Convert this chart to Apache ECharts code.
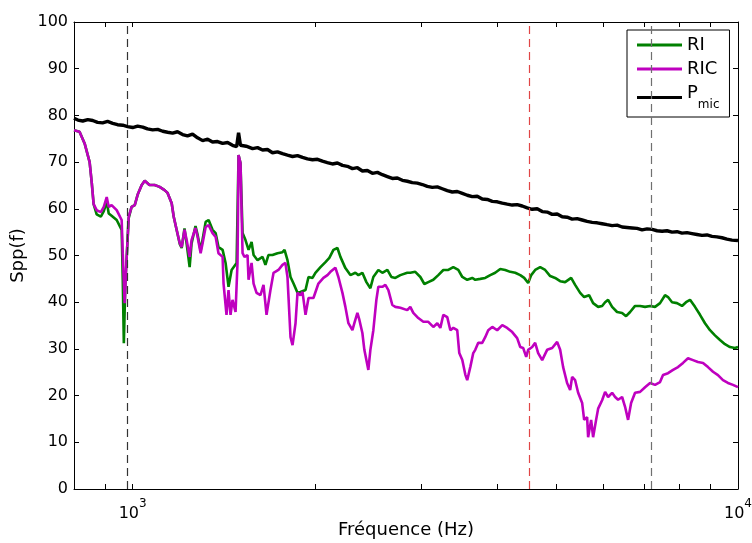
<!DOCTYPE html>
<html>
<head>
<meta charset="utf-8">
<script src="https://cdn.jsdelivr.net/npm/echarts@6/dist/echarts.min.js"></script>
<style>html,body{margin:0;padding:0;background:#fff}#c{width:752px;height:543px}</style>
</head>
<body>
<div id="c"></div>
<script>
// ---- data (frequency in Hz, Spp(f)) ----
const freqRIC = [800,817,833,849,856,862,872,886,896,906,913,923,930,941,948,959,963,970,977,985,996,1008,1019,1035,1047,1066,1087,1108,1129,1142,1160,1169,1182,1196,1205,1218,1228,1242,1251,1270,1280,1295,1305,1320,1335,1355,1371,1386,1408,1413,1429,1440,1451,1462,1479,1490,1496,1507,1519,1530,1548,1554,1572,1584,1602,1626,1645,1664,1689,1709,1741,1768,1788,1802,1809,1823,1837,1858,1872,1893,1908,1930,1952,1989,2027,2066,2098,2122,2162,2187,2221,2246,2272,2307,2324,2351,2369,2396,2414,2451,2470,2498,2527,2546,2585,2615,2645,2685,2716,2768,2842,2875,2908,2964,3021,3079,3138,3186,3223,3260,3309,3348,3386,3437,3464,3504,3544,3570,3612,3653,3681,3723,3780,3823,3867,3927,4001,4079,4156,4237,4317,4368,4417,4468,4502,4571,4623,4676,4748,4838,4932,5026,5084,5142,5220,5281,5321,5382,5444,5528,5570,5633,5655,5720,5763,5829,5874,5964,6032,6101,6195,6266,6337,6435,6508,6583,6659,6760,6890,7022,7157,7294,7434,7519,7663,7811,7960,8113,8268,8427,8588,8754,8921,9093,9266,9445,9625,9810,10000];
const valRIC = [76.8,76.5,74,70,65.5,61,59.7,59.3,60.4,62.5,60.4,60.8,60.8,59.7,59.7,57.6,50.5,39.8,49,58.3,60.4,60.8,63,65.1,66,65.1,65.1,64.7,64,63.4,61.2,58.3,55.5,52.7,51.8,55.5,53.3,49.7,53.3,55.9,54,50.5,52.7,56.1,56.5,54.8,54,50.5,49.7,44,37.3,42.6,37.3,40.5,37.9,48.4,71.5,69.8,50.5,49.7,50.1,44.8,48.4,44,42,41.5,43.7,37.3,42.6,46.3,46.9,48,48.4,45.4,41.1,32.5,30.8,35.5,42,41.5,42.2,37.3,40.9,40.9,44,45.2,45.8,46.5,47.4,45.4,42,39,35.5,34,35.5,37.7,36.2,33.4,29.8,25.5,29.8,34,40.5,43.3,43.3,43.7,42.6,39.4,39,38.8,38.3,39,37.7,36.6,35.8,35.8,34.7,35.5,34.5,37.3,36.8,34,34.5,34,29.1,27.6,24.5,23.3,26.1,29.1,29.8,31.3,31.3,32.5,34,34.7,34,35.1,34.5,33.6,32.3,30.4,30.2,28.3,29.8,30.4,31.3,29.1,27.6,29.8,30.2,31.5,29.8,26.1,22.7,21.2,24,23.3,20.6,18.4,14.8,15.4,11.1,14.8,11.1,14.8,17.2,19,20.8,19.7,20.6,19.7,19.1,19.7,17.6,14.8,18.4,20.6,20.8,21.8,22.7,22.3,22.9,24.4,24.8,25.5,26.1,27,28,27.6,27.2,27,26.1,25.1,24.4,23.3,22.7,22.3,21.8];

const freqRI = [800,817,833,849,856,862,872,886,896,906,913,923,930,941,948,959,963,967,973,977,985,996,1008,1019,1035,1047,1066,1087,1108,1129,1142,1160,1169,1182,1196,1205,1218,1228,1242,1251,1270,1280,1295,1305,1320,1335,1355,1371,1386,1408,1424,1440,1457,1468,1485,1496,1507,1519,1536,1554,1572,1584,1608,1639,1657,1676,1702,1735,1768,1782,1802,1823,1844,1872,1893,1930,1952,1982,2004,2043,2082,2113,2146,2179,2204,2246,2289,2333,2360,2396,2433,2470,2498,2546,2585,2635,2675,2716,2768,2842,2875,2930,2987,3033,3079,3138,3198,3260,3322,3386,3451,3504,3570,3639,3681,3752,3823,3897,3971,4048,4125,4205,4285,4368,4434,4502,4554,4623,4712,4802,4895,4988,5084,5181,5301,5382,5486,5570,5675,5763,5874,5964,6032,6101,6195,6313,6435,6533,6634,6760,6890,7022,7157,7294,7434,7576,7663,7781,7929,8082,8206,8332,8491,8655,8820,8990,9161,9338,9516,9700,9885,10000];
const valRI = [76.8,76.5,74,70,65.5,61,58.8,58.3,59.5,61.5,59,58.5,58.5,57.6,57.5,55.5,45,31.2,45,49,58,60.4,60.8,63,65.1,66,65.1,65.1,64.7,64,63.4,61.2,58.3,55.5,52.5,51.6,55.8,52.5,47.5,52.5,56.3,54.5,51,53.5,57.2,57.6,55.5,54.8,51.8,51.2,48.4,43.3,46.9,46.9,48.4,71.5,69.8,54.8,53.3,51.2,52.9,50.1,49,49.7,48,50.1,50.1,50.5,50.7,51.2,49,45.4,44,42,42.2,42.6,45.4,45.2,46.3,47.5,48.6,49.5,51.2,51.6,49.7,47.3,45.8,46.3,45.8,46.3,44.3,43,45.4,46.9,46.3,46.9,45.4,45.2,45.8,46.3,46.3,46.5,45.4,43.9,44.3,44.8,45.8,46.9,46.9,47.5,46.9,45.4,44.8,45.2,44.8,45,45.2,45.8,46.3,47.1,46.9,46.5,46.3,45.8,45.2,44.1,45.8,46.9,47.5,46.9,45.6,45.2,44.5,44.3,45.2,43.7,42,41.1,41.5,39.8,39,39.2,40,40.5,39,37.9,37.7,37,37.9,39.2,39.2,39,39.2,39,39.8,41.5,41.1,40,39.8,39.2,40,40.5,39,37.3,35.5,34,32.9,31.9,31,30.4,30.2,30.4];

const freqPmic = [800,812,827,843,859,875,892,909,927,944,963,981,1000,1019,1039,1058,1079,1100,1121,1142,1164,1186,1209,1232,1256,1280,1305,1330,1355,1381,1408,1435,1462,1485,1496,1507,1540,1578,1608,1639,1670,1702,1735,1768,1802,1837,1872,1908,1944,1982,2020,2058,2097,2138,2179,2221,2263,2307,2351,2396,2442,2489,2537,2585,2635,2685,2737,2789,2843,2897,2953,3010,3067,3126,3186,3247,3309,3373,3438,3504,3571,3639,3709,3780,3853,3927,4002,4079,4157,4237,4318,4401,4485,4571,4659,4748,4839,4932,5027,5123,5221,5321,5423,5528,5633,5742,5852,5964,6078,6195,6314,6435,6558,6684,6812,6943,7076,7212,7350,7491,7634,7781,7930,8082,8237,8395,8556,8720,8887,9058,9231,9409,9589,9773,10000];
const valPmic = [79.4,79.0,78.8,79.1,78.9,78.5,78.4,78.7,78.3,78.0,77.9,77.6,77.4,77.7,77.5,77.1,76.9,77.0,76.6,76.4,76.2,76.5,75.9,75.6,76.0,75.2,74.6,74.9,74.3,74.4,74.0,74.2,73.6,73.3,76.3,73.6,73.4,72.9,73.1,72.6,72.7,72.0,72.2,71.8,71.5,71.2,71.4,71.0,70.7,70.5,70.6,70.2,69.9,69.6,69.8,69.3,69.1,68.6,68.8,68.1,68.2,67.6,67.8,67.3,66.9,66.5,66.6,66.1,65.9,65.6,65.5,65.2,64.8,64.6,64.7,64.3,63.9,63.6,63.7,63.3,62.9,62.6,62.7,62.1,62.0,61.6,61.5,61.2,61.0,60.8,60.9,60.6,60.2,59.9,60.0,59.4,59.3,58.8,58.9,58.3,58.2,57.8,57.9,57.6,57.3,57.1,57.0,56.8,56.6,56.4,56.5,56.1,56.0,55.9,55.8,55.5,55.7,55.6,55.3,55.2,55.3,55.0,55.1,54.8,54.9,54.7,54.5,54.3,54.4,54.1,54.0,53.8,53.5,53.3,53.2];

const yTicks = [0,10,20,30,40,50,60,70,80,90,100];
const xMajorTicks = [1000,10000];
const xMinorTicks = [900,2000,3000,4000,5000,6000,7000,8000,9000];
const markFreqs = [981,4520,7180];
const markColors = ['#333333','#e04545','#707070'];

const zip = (xs, ys) => xs.map((x, i) => [x, ys[i]]);
const FONT = 'DejaVu Sans';
const allXTicks = xMinorTicks.concat(xMajorTicks).sort((a,b)=>a-b);

const chart = echarts.init(document.getElementById('c'), null, {renderer: 'canvas'});
const xBase = {
  type: 'log', logBase: 10, min: 800, max: 10000,
  axisLine: {show: true, onZero: false, lineStyle: {color: '#000', width: 1}},
  axisTick: {show: true, inside: true, length: 5, customValues: allXTicks, lineStyle: {color: '#000'}},
  splitLine: {show: false}, minorTick: {show: false}
};
const yBase = {
  type: 'value', min: 0, max: 100, interval: 10,
  axisLine: {show: true, onZero: false, lineStyle: {color: '#000', width: 1}},
  axisTick: {show: true, inside: true, length: 5, lineStyle: {color: '#000'}},
  splitLine: {show: false}
};
chart.setOption({
  animation: false,
  backgroundColor: '#fff',
  grid: {left: 74, right: 14, top: 22, bottom: 54, containLabel: false, outerBoundsMode: 'none'},
  legend: {
    orient: 'vertical', left: 627, top: 30,
    data: ['RI', 'RIC', 'Pmic'],
    itemWidth: 45, itemHeight: 3, itemGap: 6,
    icon: 'rect',
    padding: [6, 10, 6, 10],
    borderColor: '#000', borderWidth: 1, backgroundColor: '#fff',
    formatter: n => n === 'Pmic' ? '{p|P}{s|mic}' : '{t|' + n + '}',
    textStyle: {
      fontFamily: FONT, fontSize: 18, color: '#000',
      rich: {
        t: {fontFamily: FONT, fontSize: 18, color: '#000'},
        p: {fontFamily: FONT, fontSize: 18, color: '#000', verticalAlign: 'top', lineHeight: 27},
        s: {fontFamily: FONT, fontSize: 12, color: '#000', verticalAlign: 'bottom', lineHeight: 27}
      }
    }
  },
  xAxis: [
    Object.assign({}, xBase, {
      position: 'bottom',
      name: 'Fréquence (Hz)', nameLocation: 'middle', nameGap: 32, nameMoveOverlap: false,
      nameTextStyle: {fontFamily: FONT, fontSize: 18, color: '#000'},
      axisLabel: {
        show: true, customValues: xMajorTicks, margin: 9, color: '#000',
        formatter: v => '{b|10}{s|' + Math.round(Math.log10(v)) + '}',
        rich: {
          b: {fontFamily: FONT, fontSize: 16, color: '#000', verticalAlign: 'bottom', lineHeight: 24},
          s: {fontFamily: FONT, fontSize: 12, color: '#000', verticalAlign: 'top', lineHeight: 24}
        }
      }
    }),
    Object.assign({}, xBase, {position: 'top', axisLabel: {show: false}})
  ],
  yAxis: [
    Object.assign({}, yBase, {
      position: 'left',
      name: 'Spp(f)', nameLocation: 'middle', nameGap: 47, nameRotate: 90, nameMoveOverlap: false,
      nameTextStyle: {fontFamily: FONT, fontSize: 18, color: '#000'},
      axisLabel: {show: true, margin: 6, fontFamily: FONT, fontSize: 16, color: '#000'}
    }),
    Object.assign({}, yBase, {position: 'right', axisLabel: {show: false}})
  ],
  series: [
    {
      name: 'RI', type: 'line', data: zip(freqRI, valRI), showSymbol: false, symbol: 'none',
      color: '#008000', lineStyle: {color: '#008000', width: 2.6}, z: 2,
      markLine: {
        silent: true, symbol: ['none', 'none'], label: {show: false},
        data: markFreqs.map((f, i) => ({xAxis: f, lineStyle: {color: markColors[i], type: [8, 5], width: 1.2}}))
      }
    },
    {
      name: 'RIC', type: 'line', data: zip(freqRIC, valRIC), showSymbol: false, symbol: 'none',
      color: '#bf00bf', lineStyle: {color: '#bf00bf', width: 2.6}, z: 3
    },
    {
      name: 'Pmic', type: 'line', data: zip(freqPmic, valPmic), showSymbol: false, symbol: 'none',
      color: '#000', lineStyle: {color: '#000', width: 3.4}, z: 4
    }
  ]
});
</script>
</body>
</html>
